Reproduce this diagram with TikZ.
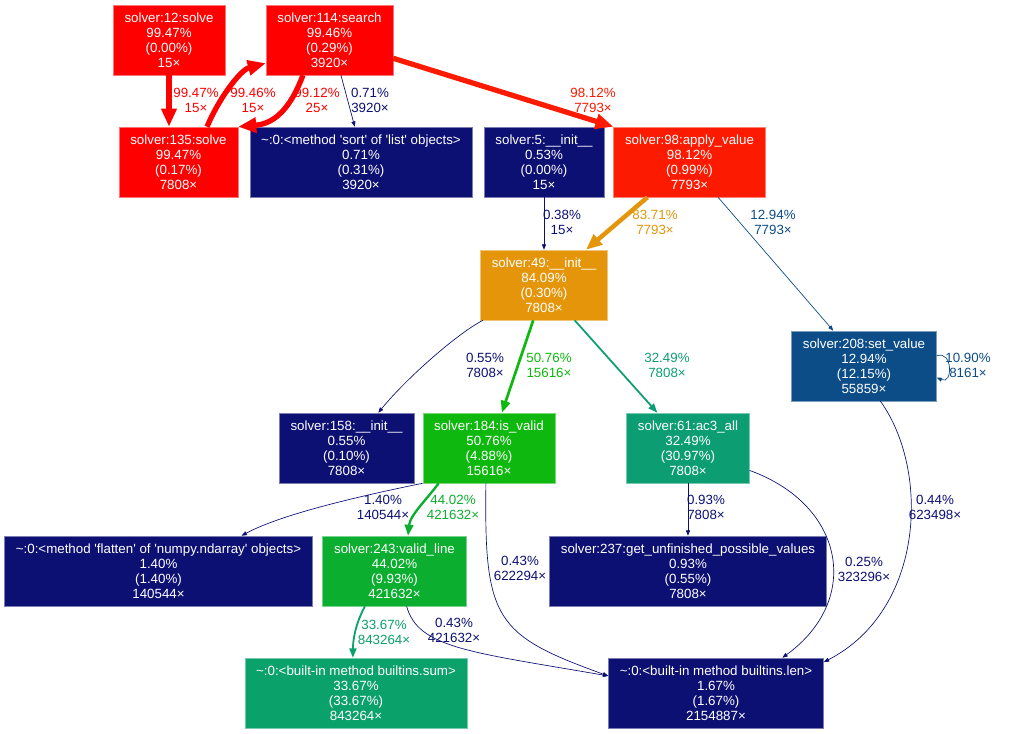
\documentclass[tikz,border=0pt]{standalone}
\usepackage{fontspec}
\setmainfont{Liberation Sans}
\usepackage{tikz}
\usetikzlibrary{arrows.meta}
\definecolor{cRed}{HTML}{FE0000}
\definecolor{cRedB}{HTML}{FC1A00}
\definecolor{cOrange}{HTML}{E5950A}
\definecolor{cGreen}{HTML}{0FB80E}
\definecolor{cGreenB}{HTML}{0CAE2F}
\definecolor{cTeal}{HTML}{0C9E72}
\definecolor{cTealB}{HTML}{0BA16A}
\definecolor{cBlue}{HTML}{0D4D87}
\definecolor{cNavy}{HTML}{0D1073}
\newcommand{\gvtext}{\fontsize{10}{11.25}\selectfont}
\newcommand{\tld}{\textasciitilde}
\newcommand{\q}{\textquotesingle}
\tikzset{
  fn/.style={rectangle, align=center, text=white, font=\gvtext,
             inner xsep=8.5pt, inner ysep=0pt, minimum height=52.5pt, line width=0.4pt},
  fnR/.style={fn, fill=cRed, draw=cRed!55!white},
  fnRB/.style={fn, fill=cRedB, draw=cRedB!55!white},
  fnO/.style={fn, fill=cOrange, draw=cOrange!55!white},
  fnG/.style={fn, fill=cGreen, draw=cGreen!55!white},
  fnGB/.style={fn, fill=cGreenB, draw=cGreenB!55!white},
  fnT/.style={fn, fill=cTeal, draw=cTeal!55!white},
  fnTB/.style={fn, fill=cTealB, draw=cTealB!55!white},
  fnB/.style={fn, fill=cBlue, draw=cBlue!55!white},
  fnN/.style={fn, fill=cNavy, draw=cNavy!55!white},
  tag/.style={font=\gvtext, align=center, inner sep=0pt},
  ar/.style={line join=round},
  arR/.style={ar, cRed, line width=3.98pt, -{Triangle[length=13.5pt,width=11pt]}},
  arRB/.style={ar, cRedB, line width=3.92pt, -{Triangle[length=13.5pt,width=11pt]}},
  arO/.style={ar, cOrange, line width=3.35pt, -{Triangle[length=12pt,width=9.7pt]}},
  arG/.style={ar, cGreen, line width=2.03pt, -{Triangle[length=9pt,width=7pt]}},
  arGB/.style={ar, cGreenB, line width=1.76pt, -{Triangle[length=8.2pt,width=6.4pt]}},
  arT/.style={ar, cTeal, line width=1.3pt, -{Triangle[length=7pt,width=5.3pt]}},
  arTB/.style={ar, cTealB, line width=1.35pt, -{Triangle[length=7pt,width=5.3pt]}},
  arB/.style={ar, cBlue, line width=0.52pt, -{Triangle[length=4pt,width=3pt]}},
  arN/.style={ar, cNavy, line width=0.5pt, -{Triangle[length=4pt,width=3pt]}}
}

\begin{document}
\begin{tikzpicture}[x=0.75pt, y=-0.75pt]
\fill[white] (0,0) rectangle (1010,733);
\useasboundingbox (0,0) rectangle (1010,733);
\node[fnR] (s12) at (169,40) {solver:12:solve\\99.47\%\\(0.00\%)\\15×};
\node[fnR] (s114) at (329.5,40) {solver:114:search\\99.46\%\\(0.29\%)\\3920×};
\node[fnR] (s135) at (178.5,162) {solver:135:solve\\99.47\%\\(0.17\%)\\7808×};
\node[fnN] (sort) at (361,162) {\tld:0:<method \q sort\q{} of \q list\q{} objects>\\0.71\%\\(0.31\%)\\3920×};
\node[fnN] (s5) at (544,162) {solver:5:\_\_init\_\_\\0.53\%\\(0.00\%)\\15×};
\node[fnRB] (s98) at (689.5,162) {solver:98:apply\_value\\98.12\%\\(0.99\%)\\7793×};
\node[fnO] (s49) at (544,285) {solver:49:\_\_init\_\_\\84.09\%\\(0.30\%)\\7808×};
\node[fnB] (s208) at (864,366) {solver:208:set\_value\\12.94\%\\(12.15\%)\\55859×};
\node[fnN] (s158) at (346.5,448) {solver:158:\_\_init\_\_\\0.55\%\\(0.10\%)\\7808×};
\node[fnG] (s184) at (489,448) {solver:184:is\_valid\\50.76\%\\(4.88\%)\\15616×};
\node[fnT] (s61) at (688,448) {solver:61:ac3\_all\\32.49\%\\(30.97\%)\\7808×};
\node[fnN] (flat) at (158.5,571) {\tld:0:<method \q flatten\q{} of \q numpy.ndarray\q{} objects>\\1.40\%\\(1.40\%)\\140544×};
\node[fnGB] (s243) at (394.5,571) {solver:243:valid\_line\\44.02\%\\(9.93\%)\\421632×};
\node[fnN] (s237) at (688,571) {solver:237:get\_unfinished\_possible\_values\\0.93\%\\(0.55\%)\\7808×};
\node[fnTB] (sum) at (356,693) {\tld:0:<built-in method builtins.sum>\\33.67\%\\(33.67\%)\\843264×};
\node[fnN] (len) at (716,693) {\tld:0:<built-in method builtins.len>\\1.67\%\\(1.67\%)\\2154887×};
\draw[arR] (s12.south) -- (s12.south |- s135.north);
\draw[arR] (s135.51) .. controls (218,100) and (240,70) .. (s114.200);
\draw[arR] (s114.233) .. controls (288,115) and (270,124) .. (s135.north east);
\draw[arN] (s114.-72) -- (sort.100);
\draw[arRB] (s114.-16) -- (s98.north west);
\draw[arN] (s5) -- (s49);
\draw[arO] (s98.220) -- (s49.40);
\draw[arB] (s98.-51) -- (s208.131);
\draw[arB] (s208.8) .. controls (953,350) and (953,385) .. (s208.-9);
\draw[arN] (s49.-150) .. controls (455,335) and (405,380) .. (s158.48);
\draw[arG] (s49.-107) -- (s184.70);
\draw[arT] (s49.-49) -- (s61.131);
\draw[arN] (s184.south west) .. controls (380,492) and (285,512) .. (flat.23);
\draw[arGB] (s184.215) .. controls (428,498) and (410,515) .. (s243.69);
\draw[arN] (s184.-95) .. controls (484,620) and (495,635) .. (len.171);
\draw[arN] (s61) -- (s237);
\draw[arN] (s61.-20) .. controls (845,505) and (862,600) .. (len.28);
\draw[arN] (s208.-65) .. controls (930,470) and (925,610) .. (len.16);
\draw[arTB] (s243.230) .. controls (355,625) and (353,640) .. (sum.95);
\draw[arN] (s243.-71) .. controls (418,648) and (470,652) .. (len.171);
\node[tag, text=cRed] (l1) at (196,100) {99.47\%\\15×};
\node[tag, text=cRed] (l2) at (253,100) {99.46\%\\15×};
\node[tag, text=cRed] (l3) at (317,100) {99.12\%\\25×};
\node[tag, text=cNavy] (l4) at (370,100) {0.71\%\\3920×};
\node[tag, text=cRedB] (l5) at (593,100) {98.12\%\\7793×};
\node[tag, text=cNavy] (l6) at (562,222) {0.38\%\\15×};
\node[tag, text=cOrange] (l7) at (655,222) {83.71\%\\7793×};
\node[tag, text=cBlue] (l8) at (773,222) {12.94\%\\7793×};
\node[tag, text=cBlue] (l9) at (968,365) {10.90\%\\8161×};
\node[tag, text=cNavy] (l10) at (485,365) {0.55\%\\7808×};
\node[tag, text=cGreen] (l11) at (549,365) {50.76\%\\15616×};
\node[tag, text=cTeal] (l12) at (667,365) {32.49\%\\7808×};
\node[tag, text=cNavy] (l13) at (383,507) {1.40\%\\140544×};
\node[tag, text=cGreenB] (l14) at (453,507) {44.02\%\\421632×};
\node[tag, text=cNavy] (l15) at (520,568) {0.43\%\\622294×};
\node[tag, text=cNavy] (l16) at (706,507) {0.93\%\\7808×};
\node[tag, text=cNavy] (l17) at (864,569) {0.25\%\\323296×};
\node[tag, text=cNavy] (l18) at (935,507) {0.44\%\\623498×};
\node[tag, text=cTealB] (l19) at (384,632) {33.67\%\\843264×};
\node[tag, text=cNavy] (l20) at (454,630) {0.43\%\\421632×};
\end{tikzpicture}
\end{document}
